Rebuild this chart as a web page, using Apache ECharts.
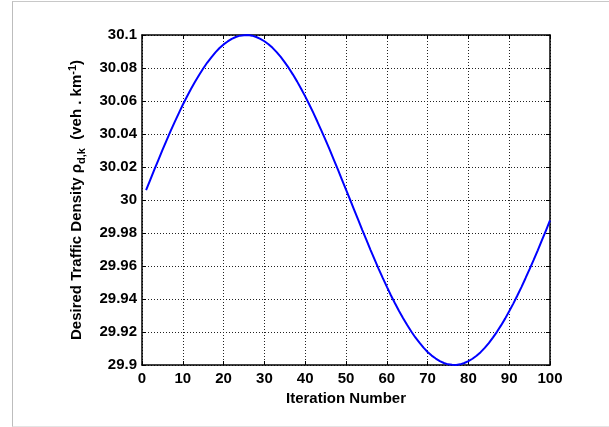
<!DOCTYPE html>
<html lang="en">
<head>
    <meta charset="UTF-8">
    <title>Desired Traffic Density</title>
    <script src="https://cdn.jsdelivr.net/npm/echarts@6/dist/echarts.min.js"></script>
    <style>
        html, body { margin: 0; padding: 0; background: #fff; }
        #frame { position: absolute; left: 12px; top: 1px; width: 597px; height: 424px;
                 border-left: 1px solid #bdbdbd; border-top: 1px solid #c8c8c8; border-bottom: 1px solid #e4e4e4; }
        #main { position: absolute; left: 0; top: 0; width: 609px; height: 427px; }
    </style>
</head>
<body>
    <div id="frame"></div>
    <div id="main"></div>
    <script>
// iteration index k and desired density
var iterations = [];
for (var i = 1; i <= 100; i++) iterations.push(i);

var density = [
    30.0060, 30.0121, 30.0182, 30.0242, 30.0302, 30.0360, 30.0417, 30.0472, 30.0525, 30.0577,
    30.0626, 30.0673, 30.0717, 30.0758, 30.0797, 30.0833, 30.0865, 30.0895, 30.0921, 30.0943,
    30.0961, 30.0977, 30.0988, 30.0996, 30.0999, 30.1000, 30.0996, 30.0988, 30.0977, 30.0962,
    30.0944, 30.0922, 30.0896, 30.0867, 30.0834, 30.0799, 30.0760, 30.0719, 30.0674, 30.0628,
    30.0579, 30.0528, 30.0474, 30.0419, 30.0363, 30.0305, 30.0245, 30.0185, 30.0124, 30.0063,
    30.0002, 29.9940, 29.9879, 29.9818, 29.9758, 29.9698, 29.9640, 29.9583, 29.9528, 29.9475,
    29.9423, 29.9374, 29.9327, 29.9283, 29.9242, 29.9203, 29.9167, 29.9135, 29.9105, 29.9079,
    29.9057, 29.9039, 29.9023, 29.9012, 29.9004, 29.9001, 29.9000, 29.9004, 29.9012, 29.9023,
    29.9038, 29.9056, 29.9078, 29.9104, 29.9133, 29.9166, 29.9201, 29.9240, 29.9281, 29.9326,
    29.9372, 29.9421, 29.9472, 29.9526, 29.9581, 29.9637, 29.9695, 29.9755, 29.9815, 29.9876
];

var xTicks = { min: 0, max: 100, step: 10 };
var yTicks = { min: 29.9, max: 30.1, step: 0.02 };

var chart = echarts.init(document.getElementById('main'));

var font = 'Liberation Sans, Arial, sans-serif';
var lineStyle = { color: '#000', width: 1.5 };
var tick = { show: true, inside: true, length: 4, lineStyle: { color: '#000', width: 1 } };
var grid = { show: true, lineStyle: { color: '#222', type: [1, 2], width: 1 } };

chart.setOption({
    animation: false,
    grid: { left: 142, right: 59, top: 35, bottom: 62 },
    xAxis: [{
        type: 'value', min: xTicks.min, max: xTicks.max, interval: xTicks.step,
        name: 'Iteration Number', nameLocation: 'middle', nameGap: 25,
        nameTextStyle: { fontFamily: font, fontWeight: 'bold', fontSize: 15, color: '#000' },
        axisLine: { show: true, onZero: false, lineStyle: lineStyle },
        axisTick: tick,
        axisLabel: { fontFamily: font, fontWeight: 'bold', fontSize: 15, color: '#000', margin: 6 },
        splitLine: grid
    }, {
        type: 'value', position: 'top', min: xTicks.min, max: xTicks.max, interval: xTicks.step,
        axisLine: { show: true, onZero: false, lineStyle: lineStyle },
        axisTick: tick, axisLabel: { show: false }, splitLine: { show: false }
    }],
    yAxis: [{
        type: 'value', min: yTicks.min, max: yTicks.max, interval: yTicks.step,
        name: 'Desired Traffic Density ρ{sub|d,k}  (veh . km{sup|-1})',
        nameLocation: 'middle', nameGap: 55, nameRotate: 90,
        nameTextStyle: {
            fontFamily: font, fontWeight: 'bold', fontSize: 15, color: '#000',
            rich: {
                sub: { fontFamily: font, fontWeight: 'bold', fontSize: 11, color: '#000', padding: [9, 0, 0, 0] },
                sup: { fontFamily: font, fontWeight: 'bold', fontSize: 11, color: '#000', padding: [0, 0, 9, 0] }
            }
        },
        axisLine: { show: true, onZero: false, lineStyle: lineStyle },
        axisTick: tick,
        axisLabel: {
            fontFamily: font, fontWeight: 'bold', fontSize: 15, color: '#000', margin: 5,
            formatter: function (v) { return String(Math.round(v * 100) / 100); }
        },
        splitLine: grid
    }, {
        type: 'value', position: 'right', min: yTicks.min, max: yTicks.max, interval: yTicks.step,
        axisLine: { show: true, onZero: false, lineStyle: lineStyle },
        axisTick: tick, axisLabel: { show: false }, splitLine: { show: false }
    }],
    series: [{
        type: 'line',
        data: iterations.map(function (k, i) { return [k, density[i]]; }),
        showSymbol: false,
        lineStyle: { color: '#0000ff', width: 2 },
        clip: true
    }]
});
    </script>
</body>
</html>
